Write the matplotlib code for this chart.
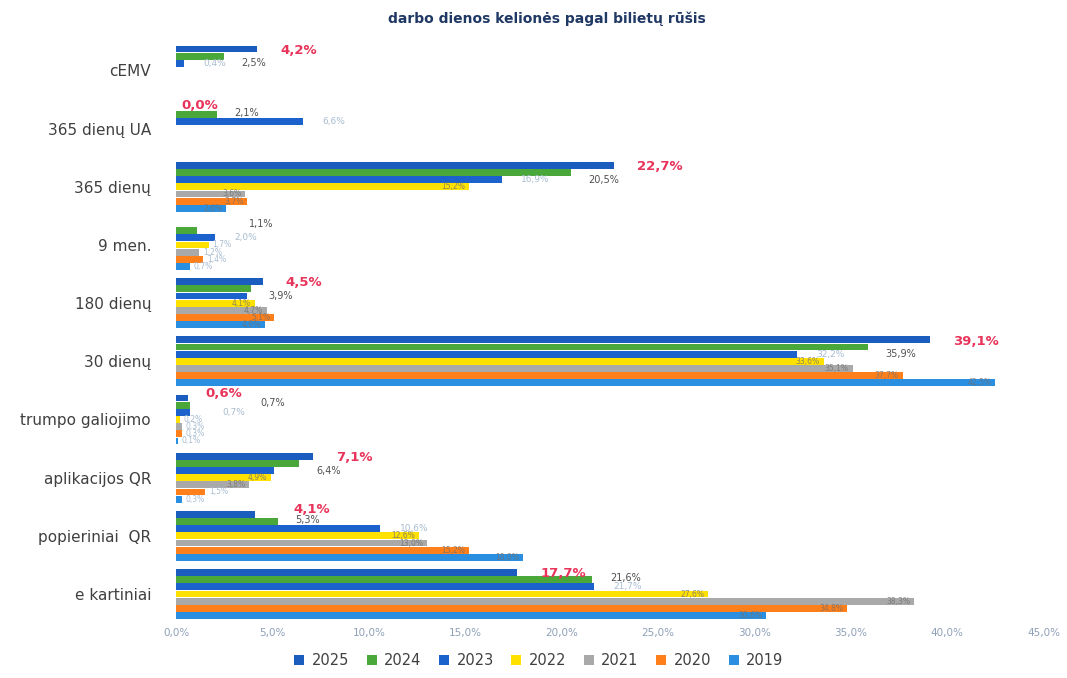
import numpy as np
import matplotlib.pyplot as plt

nan = np.nan

# Kategorijos (iš viršaus į apačią)
categories = ["cEMV", "365 dienų UA", "365 dienų", "9 men.", "180 dienų",
              "30 dienų", "trumpo galiojimo", "aplikacijos QR",
              "popieriniai  QR", "e kartiniai"]

years = ["2025", "2024", "2023", "2022", "2021", "2020", "2019"]

v2025 = [4.2, 0.0, 22.7, nan, 4.5, 39.1, 0.6, 7.1, 4.1, 17.7]
v2024 = [2.5, 2.1, 20.5, 1.1, 3.9, 35.9, 0.7, 6.4, 5.3, 21.6]
v2023 = [0.4, 6.6, 16.9, 2.0, 3.7, 32.2, 0.7, 5.1, 10.6, 21.7]
v2022 = [nan, nan, 15.2, 1.7, 4.1, 33.6, 0.2, 4.9, 12.6, 27.6]
v2021 = [nan, nan, 3.6, 1.2, 4.7, 35.1, 0.3, 3.8, 13.0, 38.3]
v2020 = [nan, nan, 3.7, 1.4, 5.1, 37.7, 0.3, 1.5, 15.2, 34.8]
v2019 = [nan, nan, 2.6, 0.7, 4.6, 42.5, 0.1, 0.3, 18.0, 30.6]

series = [v2025, v2024, v2023, v2022, v2021, v2020, v2019]
colors = ["#1A5DBE", "#4AA83A", "#1C62CC", "#FFE100", "#A9A9A9", "#FF7F1A", "#2A8FE0"]

fig = plt.figure(figsize=(10.67, 6.78), dpi=100)
ax = fig.add_axes([0.165, 0.081, 0.813, 0.858])

h = 0.123
y = np.arange(len(categories))


def fmt(v):
    return f"{v:.1f}%".replace(".", ",")


for i, (vals, col, yr) in enumerate(zip(series, colors, years)):
    ypos = y - 0.43 + h / 2 + i * h
    vals = np.array(vals, dtype=float)
    ax.barh(ypos, np.nan_to_num(vals), height=h * 0.95, color=col, label=yr)
    for j, v in enumerate(vals):
        if np.isnan(v):
            continue
        txt = fmt(v)
        if i == 0:
            # raudona etiketė 2025 m.
            kw = dict(color="#E8345A", fontsize=9.5, fontweight="bold",
                      va="center", ha="left")
            if v == 0:
                ax.text(0.3, ypos[j] - 0.03, txt, **kw)
            elif 0 < v2024[j] - v < 2:
                ax.text(v2024[j] + 0.8, ypos[j] - 0.08, txt, **kw)
            else:
                ax.text(v + 1.2, ypos[j] + 0.02, txt, **kw)
        elif i == 1:
            kw = dict(color="#505050", fontsize=7, va="center", ha="left")
            if v < 1:
                ax.text(v + 3.7, ypos[j] - 0.03, txt, **kw)
            elif v < 1.5:
                ax.text(v + 2.7, ypos[j] - h, txt, **kw)
            elif v >= v2023[j]:
                ax.text(v + 0.9, ypos[j] + h, txt, **kw)
            else:
                ax.text(v + 0.9, ypos[j] - 0.03, txt, **kw)
        elif i == 2:
            if v > 2 and 0 <= v2024[j] - v < 1.5:
                continue
            xoff = 1.7 if v < 1 and v2024[j] < 1 else 1.0
            ax.text(v + xoff, ypos[j], txt, color="#A8BCD0", fontsize=6.5,
                    va="center", ha="left")
        else:
            if v > 2.5:
                ax.text(v - 0.2, ypos[j], txt, color="#707070", fontsize=5.5,
                        va="center", ha="right", alpha=0.8)
            else:
                ax.text(v + 0.2, ypos[j], txt, color="#A8BCD0", fontsize=5.5,
                        va="center", ha="left")

ax.set_ylim(len(categories) - 0.5, -0.5)
ax.set_xlim(0, 45)
ax.set_yticks(y)
ax.set_yticklabels(categories, fontsize=11, color="#404040")
ticks = np.arange(0, 46, 5)
ax.set_xticks(ticks)
ax.set_xticklabels([fmt(t) for t in ticks], fontsize=7.5, color="#8EA0B8")
ax.tick_params(length=0)
ax.tick_params(axis="y", pad=18)
for s in ax.spines.values():
    s.set_visible(False)

fig.suptitle("darbo dienos kelionės pagal bilietų rūšis", x=0.513, y=0.983,
             fontsize=10, fontweight="bold", color="#1F3864")

fig.legend(loc="lower center", ncol=7, bbox_to_anchor=(0.505, -0.005),
           frameon=False, fontsize=10.5, handlelength=0.7, handleheight=0.7,
           columnspacing=1.2, handletextpad=0.5, labelcolor="#404040")

fig.savefig("out.png", dpi=100)
